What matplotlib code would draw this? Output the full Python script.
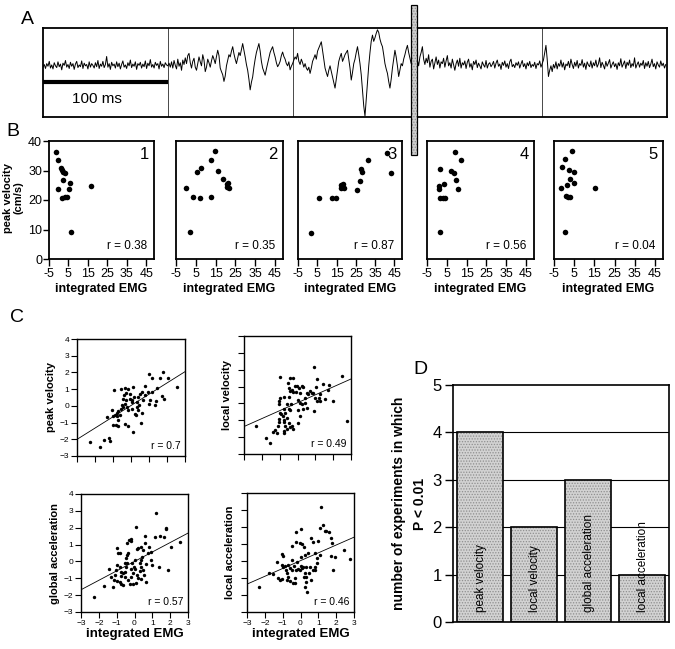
import matplotlib
matplotlib.use("Agg")
import matplotlib.pyplot as plt
from matplotlib.patches import Rectangle
import numpy as np

plt.rcParams['font.family'] = ['Liberation Sans', 'DejaVu Sans']
plt.rcParams['hatch.linewidth'] = 0.6

W, H = 675, 649

# ---------------- data ----------------
# Panel A: EMG trace, sampled every 1 ms (arbitrary units)
emg_trace = [
    0.12,0.18,0.09,0.20,0.14,0.25,0.10,0.17,0.08,0.22,0.15,0.11,0.24,0.13,0.19,0.06,0.21,0.16,0.27,0.12,
    0.18,0.09,0.23,0.14,0.20,0.07,0.19,0.25,0.11,0.17,0.13,0.26,0.09,0.21,0.15,0.18,0.08,0.24,0.12,0.20,
    0.16,0.10,0.22,0.13,0.27,0.09,0.19,0.14,0.25,0.11,0.18,0.36,0.12,0.20,0.07,0.23,0.15,0.19,0.10,0.24,
    0.13,0.21,0.08,0.18,0.26,0.12,0.17,0.09,0.22,0.15,0.28,0.11,0.19,0.14,0.24,0.07,0.20,0.16,0.23,0.10,
    0.19,0.13,0.26,0.09,0.21,0.15,0.29,0.12,0.18,0.10,0.23,0.16,0.20,0.08,0.25,0.14,0.19,0.11,0.22,0.17,
    0.15,0.21,0.12,0.24,0.10,0.27,0.16,0.08,0.30,0.14,0.22,0.05,0.28,0.18,0.33,0.20,0.38,0.43,0.22,0.10,
    0.25,0.32,0.12,0.05,0.20,0.35,0.24,0.15,0.40,0.28,0.02,0.12,0.30,0.22,0.12,0.26,0.38,0.30,0.20,0.36,
    0.50,0.38,0.10,0.02,-0.05,-0.20,-0.08,0.15,0.28,0.40,0.35,0.48,0.58,0.42,0.30,0.20,0.32,0.45,0.38,0.52,
    0.65,0.50,0.35,0.18,0.05,-0.15,-0.39,-0.22,-0.10,0.12,0.30,0.45,0.55,0.65,0.48,0.25,0.10,0.02,-0.06,0.08,
    0.20,0.32,0.45,0.52,0.58,0.45,0.35,0.22,0.13,0.18,0.25,0.38,0.46,0.36,0.30,0.20,0.15,0.24,0.06,0.14,
    0.20,0.28,0.35,0.30,0.43,0.25,0.18,0.30,0.22,0.12,0.20,0.10,0.05,0.12,-0.02,0.10,0.25,0.32,0.40,0.30,
    0.48,0.55,0.62,0.69,0.50,0.30,0.10,0.00,-0.09,0.05,0.15,0.02,-0.10,-0.22,-0.35,-0.15,0.05,0.25,0.35,0.43,
    0.25,0.32,0.40,0.45,0.50,0.30,0.10,-0.17,0.00,0.20,0.30,0.45,0.58,0.40,0.20,-0.05,-0.40,-0.75,-0.98,-0.60,
    -0.20,0.15,0.45,0.70,0.84,0.70,0.78,0.88,0.96,0.90,0.75,0.65,0.58,0.40,0.20,0.08,-0.02,-0.20,-0.35,-0.15,
    0.10,0.30,0.50,0.35,0.15,-0.09,0.05,0.20,0.15,0.30,0.40,0.52,0.61,0.45,0.32,0.20,0.25,0.12,0.06,0.20,
    0.28,0.15,0.35,0.45,0.58,0.30,0.18,0.32,0.22,0.40,0.12,0.25,0.30,0.08,0.22,0.35,0.18,0.28,0.10,0.24,
    0.20,0.32,0.12,0.26,0.38,0.15,0.22,0.10,0.30,0.18,0.05,0.20,0.28,0.14,0.32,0.10,0.22,0.17,0.26,0.09,
    0.23,0.30,0.12,0.20,0.06,0.25,0.18,0.28,0.11,0.21,0.15,0.08,0.24,0.17,0.12,0.27,0.10,0.19,0.22,0.13,
    0.18,0.25,0.10,0.21,0.28,0.14,0.19,0.07,0.23,0.16,0.26,0.12,0.20,0.09,0.24,0.30,0.13,0.18,0.11,0.22,
    0.16,0.24,0.10,0.19,0.27,0.13,0.20,0.08,0.22,0.15,0.25,0.11,0.18,0.14,0.23,0.09,0.20,0.17,0.26,0.12,
    0.20,0.28,0.45,0.61,0.30,-0.09,0.05,0.15,0.02,0.18,0.10,0.24,0.08,0.20,0.14,0.28,0.12,0.22,0.06,0.19,
    0.15,0.25,0.11,0.30,0.18,0.09,0.23,0.14,0.27,0.10,0.20,0.16,0.29,0.12,0.21,0.07,0.24,0.17,0.13,0.26,
    0.10,0.22,0.15,0.28,0.12,0.19,0.33,0.11,0.23,0.16,0.08,0.25,0.14,0.21,0.29,0.10,0.18,0.24,0.13,0.20,
    0.07,0.22,0.15,0.31,0.12,0.19,0.26,0.09,0.23,0.16,0.28,0.11,0.20,0.14,0.33,0.10,0.18,0.24,0.12,0.21,
    0.16,0.27,0.09,0.22,0.14,0.25,0.11,0.19,0.30,0.13,0.20,0.08,0.24,0.17,0.12,0.26,0.15,0.21,0.10,0.18,
]
emg_dt_ms = 1
divider_times_ms = [100, 200, 400]
scalebar_ms = 100

# Panel B: peak velocity vs integrated EMG for 5 time windows
b_x = [
    [-1.55,-0.34,1.38,1.9,2.24,3.1,-0.17,2.24,1.9,3.28,4.3,5.17,6.0,16.7,6.2],
    [-0.1,3.6,2.3,5.85,7.5,6.9,12.5,14.8,12.8,16.4,18.7,20.6,21.3,20.9,21.6],
    [1.5,5.9,12.4,14.8,17.2,18.5,18.9,17.5,25.6,27.0,27.5,28.3,31.4,41.2,43.4],
    [9.0,12.4,1.7,7.2,8.6,9.7,3.4,0.9,1.0,10.7,1.55,2.9,4.0,1.7],
    [3.7,0.4,-0.8,2.2,4.7,2.9,4.7,1.4,-1.3,15.3,0.9,1.9,2.9,0.4],
]
b_y = [
    [36.4,33.7,30.9,30.3,29.6,29.3,23.8,26.7,20.7,21.0,21.0,23.8,25.6,24.9,9.2],
    [24.0,21.1,9.3,29.4,30.9,20.7,33.7,36.5,21.1,29.9,27.0,25.4,25.8,24.5,24.0],
    [8.9,20.7,20.6,20.8,25.0,25.5,24.0,24.2,23.5,26.4,30.6,29.5,33.5,36.1,29.1],
    [36.2,33.4,30.6,29.7,29.3,26.7,25.5,24.6,23.7,23.8,20.8,20.8,20.6,9.0],
    [36.6,33.8,31.1,30.1,29.5,27.0,25.8,25.0,24.1,24.2,21.2,21.1,20.9,9.3],
]
b_r = ["0.38", "0.35", "0.87", "0.56", "0.04"]
b_xticks = [-5, 5, 15, 25, 35, 45]
b_yticks = [0, 10, 20, 30, 40]

# Panel C: normalized scatter plots
c1_x = [-2.30,-1.72,-1.48,-1.22,-1.15,-1.35,-0.93,-0.57,-0.33,-0.15,0.09,-0.26,-0.39,-0.43,-0.30,-0.33,-0.52,-0.43,
        -0.56,-0.70,-0.80,-0.89,-0.98,-1.04,-0.76,-0.98,-0.85,-0.74,-0.33,-0.15,0.13,-0.70,-0.61,-0.06,0.07,0.31,
        0.41,0.50,0.59,0.78,1.00,1.15,1.61,1.76,2.04,2.54,1.46,1.19,0.96,1.06,1.00,1.33,1.37,1.74,1.85,0.46,0.31,
        0.37,0.22,0.28,0.59,0.54,0.04,-0.15,-0.24,-0.06,0.19,0.78,0.69,0.04]
c1_y = [-2.16,-2.44,-2.02,-1.92,-2.12,-0.66,0.92,1.00,1.04,0.98,1.14,0.74,0.64,0.44,0.34,0.14,0.04,-0.06,
        -0.20,-0.32,-0.40,-0.56,-0.62,-0.26,-0.60,-1.12,-1.16,-1.20,-1.06,-1.20,-1.56,-0.86,-0.56,0.40,0.24,0.24,
        0.54,0.68,0.84,1.20,1.88,1.64,1.64,2.04,1.68,1.14,1.04,0.80,0.80,0.34,0.14,0.04,0.28,0.60,0.44,0.04,-0.06,
        -0.26,-0.46,-0.56,-0.40,-1.00,-0.20,-0.26,-0.06,0.68,0.54,0.64,0.34,0.34]
c2_x = [-2.31,-1.75,-1.53,-1.40,-1.25,-1.16,-1.10,-1.06,-1.03,-0.91,-0.97,-0.84,-0.78,-0.73,-0.69,-0.78,-0.78,-0.60,
        -0.41,-0.32,-0.23,-0.50,-0.60,-0.69,-0.73,-0.50,-0.41,-0.36,-0.60,-1.03,-1.06,-0.97,-0.78,-0.50,-0.41,-0.32,
        -0.23,-0.50,-0.54,-0.41,-0.28,-0.97,-0.13,-0.04,0.09,0.24,0.33,-0.09,0.15,0.05,0.15,0.24,0.43,0.52,0.61,0.71,
        0.80,0.89,0.99,1.08,0.95,1.08,1.02,1.45,1.77,1.73,1.26,1.21,1.26,1.54,2.01,2.47,2.77,0.52,0.33,0.05,0.43,0.95,
        0.15,0.05]
c2_y = [-1.31,-2.07,-2.33,-1.68,-1.58,-1.74,-1.35,-1.11,-0.91,-0.65,-0.56,-0.75,-0.99,-1.11,-1.31,-1.64,-1.74,-1.54,
        -1.40,-1.35,-1.50,-1.15,-0.85,-0.56,-0.36,-0.32,-0.40,-0.06,-0.06,-0.06,0.13,0.33,0.39,0.39,0.73,0.82,
        0.67,0.92,1.22,1.51,1.51,1.57,1.02,1.06,0.92,1.06,0.98,0.67,0.63,0.23,0.04,-0.06,0.33,0.63,0.53,0.73,
        0.63,0.59,0.33,0.13,2.15,1.42,0.98,1.18,1.12,0.82,0.53,0.33,0.13,0.27,0.13,1.61,-1.05,-0.26,-0.32,-0.40,0.04,-0.46,
        -0.75,-1.15]
c3_x = [-2.29,-1.71,-1.45,-1.30,-1.20,-1.15,-1.07,-1.01,-0.98,-0.96,-0.92,-0.83,-0.79,-0.73,-0.73,-0.96,-0.83,-0.77,
        -0.64,-0.55,-0.51,-0.45,-0.40,-0.45,-0.40,-0.36,-0.40,-0.32,-0.21,-0.17,-0.55,-0.64,-0.36,-0.27,-0.17,-0.08,
        -0.17,-0.13,-0.02,0.05,0.11,0.05,0.16,0.20,0.30,0.35,0.39,0.43,0.20,0.16,0.35,0.48,0.58,0.61,0.80,0.95,0.91,
        0.99,1.14,1.23,1.36,1.42,1.66,1.74,1.79,1.89,2.04,2.54,0.54,0.67,0.39,0.11,-0.08,0.30,0.67,0.48,0.76]
c3_y = [-2.13,-1.45,-0.43,-0.94,-1.53,-1.10,-0.80,-0.51,-0.21,0.78,0.48,0.52,-0.31,-0.60,-0.86,-1.14,-1.20,-1.36,
        -1.40,-0.94,-0.60,-0.35,-0.07,0.19,0.38,0.52,1.11,1.27,1.23,1.31,-0.07,-0.66,-1.10,-1.34,-0.90,-0.70,
        -0.47,-0.11,-0.31,0.09,2.02,-0.47,-0.80,-1.00,-0.55,-0.35,0.09,0.28,0.78,0.72,0.84,0.68,1.08,1.51,0.84,0.58,0.09,
        -0.21,1.47,2.85,-0.31,1.51,1.47,1.91,1.96,-0.51,0.88,1.17,-0.80,-1.20,-1.06,-1.26,-1.34,-0.07,-0.15,-0.51,0.48]
c4_x = [-2.31,-1.75,-1.53,-1.34,-1.25,-1.16,-1.06,-1.03,-0.97,-1.03,-0.97,-0.88,-0.84,-0.78,-0.78,-0.69,-0.69,-0.60,
        -0.60,-0.50,-0.47,-0.45,-0.41,-0.36,-0.32,-0.32,-0.23,-0.19,-0.13,-0.23,0.05,-0.04,0.09,0.20,0.02,0.09,0.15,
        0.24,0.20,0.24,0.33,0.39,0.28,0.33,0.43,0.46,0.52,0.58,0.71,0.80,0.84,0.95,0.99,1.08,1.13,1.08,1.26,1.36,
        1.45,1.58,1.69,1.77,1.69,1.95,1.82,2.44,2.75,0.33,-0.04,0.61,0.71,-0.23,0.02,0.80,0.95]
c4_y = [-1.51,-0.73,-0.76,-0.04,-1.02,-1.12,-1.08,0.41,0.29,-0.24,-0.37,-0.29,-0.53,-0.69,-1.12,-0.96,-0.24,-0.43,
        -1.16,0.06,-0.53,0.88,-1.27,-0.29,-1.02,-1.31,1.14,-0.04,-0.49,1.73,1.86,1.04,1.00,0.80,-0.29,-0.43,-0.37,
        -0.73,-0.96,-1.55,-1.22,-1.80,0.35,-0.96,0.45,-0.69,-0.33,1.33,1.14,0.45,-0.33,-0.10,1.20,0.35,3.20,1.92,2.12,1.78,
        1.78,1.73,1.33,1.08,0.29,0.25,-0.53,0.65,0.10,-0.33,-0.53,-1.12,-0.53,-0.53,0.25,-0.53,0.16]
c_x_sets = [c1_x, c2_x, c3_x, c4_x]
c_y_sets = [c1_y, c2_y, c3_y, c4_y]
c_labels = ["peak velocity", "local velocity", "global acceleration", "local acceleration"]
c_r = ["0.7", "0.49", "0.57", "0.46"]
c_fit_intercept = [0.02, 0.04, 0.0, 0.02]
c_fit_slope = [0.675, 0.47, 0.56, 0.46]
c_xticks = [-3, -2, -1, 0, 1, 2, 3]
c_yticks = [-3, -2, -1, 0, 1, 2, 3, 4]

# Panel D
d_categories = ["peak velocity", "local velocity", "global acceleration", "local acceleration"]
d_counts = [4, 2, 3, 1]

# ---------------- figure ----------------
fig = plt.figure(figsize=(W / 100, H / 100), dpi=100)


def add_ax(l, t, r, b):
    return fig.add_axes([l / W, 1 - b / H, (r - l) / W, (b - t) / H])


# ---- Panel A ----
axA = add_ax(43, 28, 667, 117)
tA = np.arange(len(emg_trace)) * emg_dt_ms
axA.plot(tA, emg_trace, color='black', lw=0.7)
for d in divider_times_ms:
    axA.axvline(d, color='black', lw=0.5)
axA.plot([0, scalebar_ms], [-0.21, -0.21], color='black', lw=3, solid_capstyle='butt')
axA.text(43, -0.6, "100 ms", ha='center', va='center', fontsize=11)
axA.set_xlim(0, 500)
axA.set_ylim(-1, 1)
axA.set_xticks([])
axA.set_yticks([])
for s in axA.spines.values():
    s.set_linewidth(1.3)

# ---- Panel B ----
b_boxes = [(49, 141, 154, 259), (176, 141, 283, 259), (298, 141, 402, 259),
           (427, 141, 534, 259), (554, 141, 663, 259)]
for i, (l, t, r, b) in enumerate(b_boxes):
    ax = add_ax(l, t, r, b)
    ax.scatter(b_x[i], b_y[i], s=16, color='black', linewidths=0, zorder=3)
    ax.set_xlim(-5, 49)
    ax.set_ylim(0, 40)
    ax.set_xticks(b_xticks)
    ax.set_xticklabels([str(v) for v in b_xticks], fontsize=9)
    ax.tick_params(axis='x', direction='out', length=5, width=1, pad=1.5)
    if i == 0:
        ax.set_yticks(b_yticks)
        ax.set_yticklabels([str(v) for v in b_yticks], fontsize=9)
        ax.tick_params(axis='y', direction='out', length=4, width=1, pad=1)
    else:
        ax.set_yticks([])
    ax.set_xlabel("integrated EMG", fontsize=9, fontweight='bold', labelpad=2)
    for s in ax.spines.values():
        s.set_linewidth(1.3)
    ax.text(0.95, 0.95, str(i + 1), transform=ax.transAxes, ha='right', va='top', fontsize=12)
    ax.text(0.93, 0.06, "r = " + b_r[i], transform=ax.transAxes, ha='right', va='bottom', fontsize=8.5)

fig.text(13 / W, 1 - 198 / H, "peak velocity\n(cm/s)", rotation=90, ha='center', va='center',
         fontsize=8, fontweight='bold', linespacing=1.1)

# Gray vertical bar between A/B panels
fig.patches.append(Rectangle((411 / W, 1 - 155 / H), 6 / W, 150 / H, transform=fig.transFigure,
                             facecolor='#cfcfcf', edgecolor='#8a8a8a', lw=0, hatch='......', zorder=10))
fig.patches.append(Rectangle((411 / W, 1 - 155 / H), 6 / W, 150 / H, transform=fig.transFigure,
                             facecolor='none', edgecolor='black', lw=0.9, zorder=11))

# ---- Panel C ----
c_boxes = [(77, 339, 185, 456), (244, 336, 351, 454), (81, 494, 188, 612), (247, 493, 354, 612)]
for i, (l, t, r, b) in enumerate(c_boxes):
    ax = add_ax(l, t, r, b)
    ax.scatter(c_x_sets[i], c_y_sets[i], s=6, color='black', linewidths=0, zorder=3)
    xx = np.array([-3, 3])
    ax.plot(xx, c_fit_intercept[i] + c_fit_slope[i] * xx, color='black', lw=0.6)
    ax.set_xlim(-3, 3)
    ax.set_ylim(-3, 4)
    ax.set_xticks(c_xticks)
    ax.set_yticks(c_yticks)
    ax.tick_params(direction='out', length=4, width=0.8, pad=1.5, labelsize=6, colors='black')
    if i % 2 == 1:
        ax.set_yticklabels([])
    if i < 2:
        ax.set_xticklabels([])
    else:
        ax.set_xlabel("integrated EMG", fontsize=9.5, fontweight='bold', labelpad=1)
    ax.set_ylabel(c_labels[i], fontsize=8, fontweight='bold', labelpad=3)
    for s in ax.spines.values():
        s.set_linewidth(1.0)
    ax.text(0.96, 0.04, "r = " + c_r[i], transform=ax.transAxes, ha='right', va='bottom', fontsize=7.5)

# ---- Panel D ----
axD = add_ax(453, 385, 669, 622)
xpos = np.arange(len(d_counts))
for yv in [1, 2, 3, 4]:
    axD.axhline(yv, color='black', lw=0.8, zorder=1)
axD.bar(xpos, d_counts, width=0.85, color='#d2d2d2', edgecolor='#8f8f8f', linewidth=0,
        hatch='......', zorder=2)
axD.bar(xpos, d_counts, width=0.85, color='none', edgecolor='black', linewidth=1.2, zorder=3)
for x, lab in zip(xpos, d_categories):
    axD.text(x + 0.02, 0.22, lab, rotation=90, ha='center', va='bottom', fontsize=8.5, zorder=4)
axD.set_xlim(-0.5, 3.5)
axD.set_ylim(0, 5)
axD.set_xticks([])
axD.set_yticks([0, 1, 2, 3, 4, 5])
axD.tick_params(axis='y', direction='out', length=6, width=1, labelsize=12, pad=2)
for s in axD.spines.values():
    s.set_linewidth(1.2)
axD.set_ylabel("number of experiments in which\nP < 0.01", fontsize=10, fontweight='bold',
               labelpad=4, linespacing=1.6)

# Panel letters
fig.text(27 / W, 1 - 20 / H, "A", fontsize=14, ha='center', va='center')
fig.text(13 / W, 1 - 131 / H, "B", fontsize=14, ha='center', va='center')
fig.text(17 / W, 1 - 318 / H, "C", fontsize=14, ha='center', va='center')
fig.text(420 / W, 1 - 370 / H, "D", fontsize=14, ha='center', va='center')

fig.savefig("out.png", dpi=100)
